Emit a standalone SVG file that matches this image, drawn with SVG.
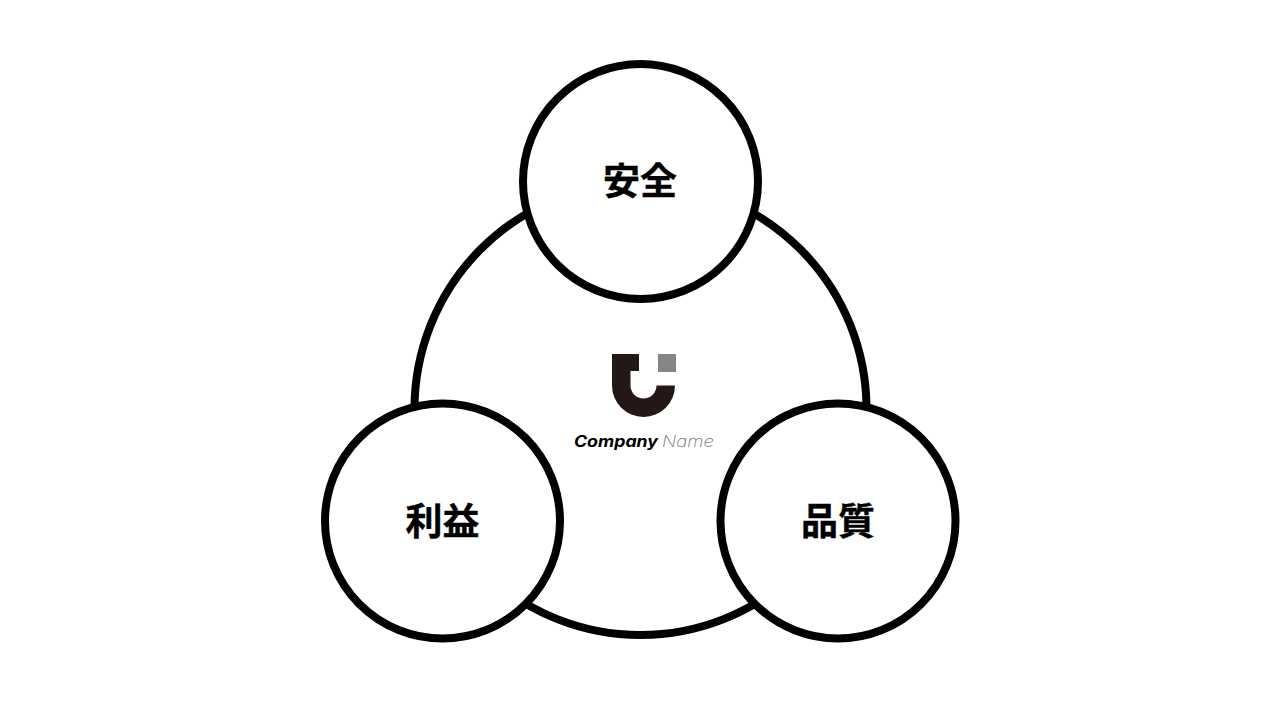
<svg xmlns="http://www.w3.org/2000/svg" width="1280" height="720" viewBox="0 0 1280 720">
<style>
.c{fill:#fff;stroke:#000;stroke-width:8}
.t{font-family:"Noto Sans CJK JP","Noto Sans CJK SC",sans-serif;font-weight:700;font-size:37px;text-anchor:middle;fill:#000;stroke:#000;stroke-width:.4}
.l{font-family:Inter,"Open Sans",sans-serif;font-style:italic;font-size:15.5px}
</style>
<rect width="1280" height="720" fill="#fff"/>
<g id="connectors"></g>
<g id="center"><circle class="c" cx="640.5" cy="409" r="226"/>
<path d="M612 354H639V371H630.5V385.5A13 13 0 0 0 656.5 385.5H675A31.5 31.5 0 0 1 612 385.5Z" fill="#231815"/>
<rect x="658" y="354" width="18" height="18" fill="#858585"/>
<text class="l" x="574" y="446.500" font-weight="700" fill="#000" textLength="84" lengthAdjust="spacingAndGlyphs">Company</text>
<text class="l" x="662" y="446.500" font-weight="200" fill="#777" textLength="52" lengthAdjust="spacingAndGlyphs">Name</text></g>
<g id="safety"><circle class="c" cx="640.500" cy="181.500" r="117.500"/><text class="t" x="640" y="194.500">安全</text></g>
<g id="profit"><circle class="c" cx="442.500" cy="521" r="117.500"/><text class="t" x="442.500" y="534.500">利益</text></g>
<g id="quality"><circle class="c" cx="838" cy="521" r="117.500"/><text class="t" x="838" y="534.500">品質</text></g>
</svg>
